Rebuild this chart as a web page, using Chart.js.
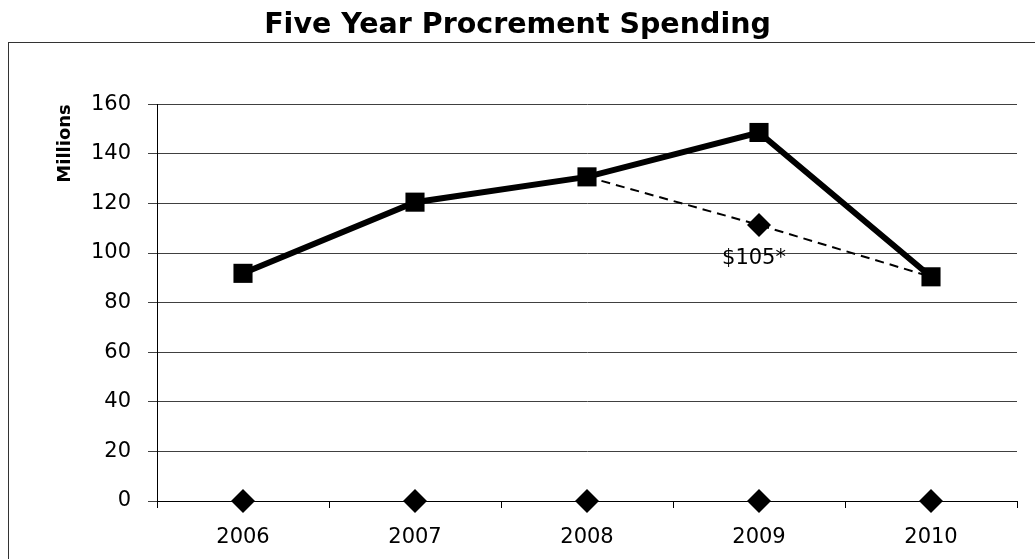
<!DOCTYPE html>
<html>
<head>
<meta charset="utf-8">
<script src="https://cdn.jsdelivr.net/npm/chart.js@4/dist/chart.umd.min.js"></script>
<style>
  html, body { margin: 0; padding: 0; background: #fff; }
  #wrap { width: 1035px; height: 559px; position: relative; }
</style>
</head>
<body>
<div id="wrap"><canvas id="c" width="1035" height="559"></canvas></div>
<script>
const years = ['2006', '2007', '2008', '2009', '2010'];
const spending = [91.8, 120.5, 130.7, 148.6, 90.4];
const projected = [null, null, 130.7, 111.3, 90.4];
const baseline = [0, 0, 0, 0, 0];
const yMin = 0, yMax = 160, yStep = 20;
const chartTitle = 'Five Year Procrement Spending';
const yTitle = 'Millions';
const noteText = '$105*';
const noteIndex = 3;

const FONT = "'DejaVu Sans', sans-serif";

const frame = {
  id: 'frame',
  beforeDraw(chart) {
    const ctx = chart.ctx;
    ctx.save();
    ctx.fillStyle = '#fff';
    ctx.fillRect(0, 0, chart.width, chart.height);
    ctx.strokeStyle = '#333';
    ctx.lineWidth = 1;
    ctx.strokeRect(8.5, 42.5, 1200, 700);
    ctx.restore();
  }
};

const note = {
  id: 'note',
  afterDatasetsDraw(chart) {
    const meta = chart.getDatasetMeta(1);
    const pt = meta.data[noteIndex];
    if (!pt) return;
    const ctx = chart.ctx;
    ctx.save();
    ctx.fillStyle = '#000';
    ctx.font = '21px ' + FONT;
    ctx.textAlign = 'center';
    ctx.textBaseline = 'middle';
    ctx.fillText(noteText, pt.x - 5, pt.y + 34);
    ctx.restore();
  }
};

Chart.defaults.color = '#000';
Chart.defaults.font.family = FONT;

new Chart(document.getElementById('c'), {
  type: 'line',
  data: {
    labels: years,
    datasets: [
      {
        label: 'Spending',
        data: spending,
        borderColor: '#000',
        backgroundColor: '#000',
        borderWidth: 6,
        pointStyle: 'rect',
        pointRadius: 13.5,
        pointBorderWidth: 0,
        pointBackgroundColor: '#000',
        tension: 0,
        clip: false,
        order: 1
      },
      {
        label: 'Projected',
        data: projected,
        borderColor: '#000',
        backgroundColor: '#000',
        borderWidth: 2,
        borderDash: [9, 6],
        pointStyle: 'rectRot',
        pointRadius: [0, 0, 0, 12, 0],
        pointBorderWidth: 0,
        pointBackgroundColor: '#000',
        tension: 0,
        clip: false,
        order: 2
      },
      {
        label: 'Baseline',
        data: baseline,
        showLine: false,
        borderColor: '#000',
        backgroundColor: '#000',
        pointStyle: 'rectRot',
        pointRadius: 12,
        pointBorderWidth: 0,
        pointBackgroundColor: '#000',
        clip: false,
        order: 0
      }
    ]
  },
  options: {
    responsive: false,
    animation: false,
    events: [],
    layout: { padding: { left: 18, right: 18, top: 0, bottom: 0 } },
    plugins: {
      legend: { display: false },
      tooltip: { enabled: false },
      title: {
        display: true,
        text: chartTitle,
        color: '#000',
        font: { family: FONT, size: 28.5, weight: 'bold' },
        padding: { top: 8, bottom: 62 }
      }
    },
    scales: {
      x: {
        offset: true,
        grid: {
          offset: true,
          drawOnChartArea: false,
          drawTicks: true,
          tickLength: 7,
          color: '#000'
        },
        border: { display: true, color: '#000', width: 1 },
        ticks: { font: { family: FONT, size: 21 }, padding: 17, color: '#000', maxRotation: 0 },
        afterFit(scale) { scale.height = 58; }
      },
      y: {
        min: yMin,
        max: yMax,
        ticks: { stepSize: yStep, font: { family: FONT, size: 21 }, padding: 17, color: '#000' },
        grid: { color: '#404040', lineWidth: 1, drawTicks: true, tickLength: 9 },
        border: { display: true, color: '#000', width: 1 },
        title: {
          display: true,
          text: yTitle,
          align: 'end',
          color: '#000',
          font: { family: FONT, size: 18, weight: 'bold' },
          padding: { top: 37, bottom: 0 }
        },
        afterFit(scale) { scale.width = 139; }
      }
    }
  },
  plugins: [frame, note]
});
</script>
</body>
</html>
